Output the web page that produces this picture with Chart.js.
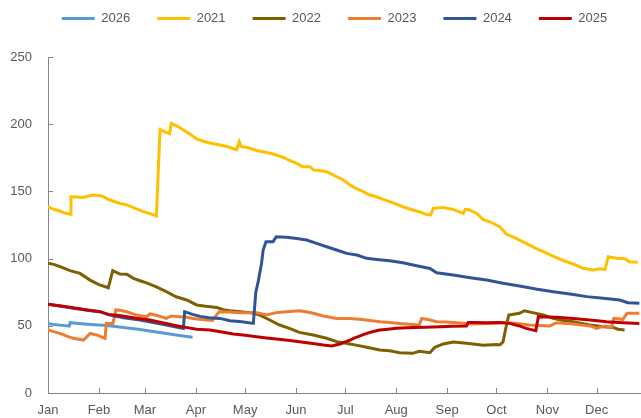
<!DOCTYPE html>
<html>
<head>
<meta charset="utf-8">
<script src="https://cdn.jsdelivr.net/npm/chart.js@4.4.1/dist/chart.umd.min.js"></script>
<style>
html, body { margin: 0; padding: 0; background: #fff; }
#wrap { width: 641px; height: 418px; position: relative; }
</style>
</head>
<body>
<div id="wrap"><canvas id="chart"></canvas></div>
<script>
// x = day of year (0 = 1 Jan)
const monthStarts = [0, 31, 59, 90, 120, 151, 181, 212, 243, 273, 304, 334];
const monthLabels = ['Jan', 'Feb', 'Mar', 'Apr', 'May', 'Jun', 'Jul', 'Aug', 'Sep', 'Oct', 'Nov', 'Dec'];
const yTicks = [0, 50, 100, 150, 200, 250];

const years = ['2026', '2021', '2022', '2023', '2024', '2025'];
const colors = ['#5B9BD5', '#FFC000', '#7F6000', '#ED7D31', '#2F5597', '#C00000'];

// [day, value]
const s2026 = [[0,51.5],[7,50.5],[13,49.8],[13.5,52.3],[24,51.2],[36,50.2],[46,48.8],[56,47.3],[64,45.8],[72,44.2],[80,42.8],[88,41.5]];

const s2021 = [[0,138.5],[4,136.5],[7,135.4],[10,134],[13.4,133],[14,146],[18,145.8],[21.5,145.5],[25,146.8],[27.6,147.3],[32.7,146.6],[37.7,143.6],[43.8,141],[48,140],[52,138],[58,135],[62,133.5],[66,131.7],[68.2,196],[72,194],[74,193],[75,200.6],[78,199],[82,196],[86,193],[90.5,189],[94,187.5],[98.6,186],[106.7,184],[110,183],[114.8,181],[116.4,187],[117.5,183.5],[122,182.5],[127,180.4],[133,178.9],[137,177.8],[143,175.4],[147,173],[151,171],[155,168.4],[159.5,168.4],[161.5,166],[165,165.5],[169.6,164.7],[173.6,162.2],[179.7,158.5],[183.8,155],[187,152.5],[190,151],[196,147.3],[200,146],[204,144],[208,142.4],[212,140.5],[216,138.6],[222,136.2],[226,134.9],[230,133],[233,132.5],[234.5,137.4],[240.6,138],[246.7,136.6],[250,135],[252.8,133.6],[254,136.6],[256,136.6],[261,133.6],[265,129],[269,127.4],[275,123.7],[279,118.3],[285,115],[291,111.3],[297,107.6],[303.5,104],[307,102],[311.6,99.7],[315,98],[319.7,96],[325.8,92.8],[332,91.5],[336,92.5],[339,92],[340,96],[341,101.4],[346,100.2],[350,100],[352,99.4],[354,97.7],[359,97.2]];

const s2022 = [[0,96.5],[4,95.5],[7.3,94],[13.4,91],[19.5,89],[25.6,84],[30.6,80.8],[36.7,78.3],[39.4,91],[43.8,88.5],[47.9,88.3],[52,85.3],[56,83.5],[60,82],[66,79],[72,75.4],[78,71.6],[84.4,69.2],[90.5,65.5],[96,64.5],[102.7,63.7],[106.7,62],[110.8,61.2],[116.9,60.5],[123,59.8],[129,58],[135,54.3],[141,50.6],[147,48.1],[153,45.1],[161.5,43.2],[169.6,40.7],[175.7,38.2],[183.8,36.5],[186,36],[194,34],[202,32],[208,31.5],[214,30],[222,29.5],[226,31],[232.5,30],[235.5,34],[240.6,36.5],[246.7,38],[254.8,37],[265,35.5],[273,36],[275,35.7],[277,38],[279,50],[280.5,58],[287,59.3],[290,61.2],[295,59.8],[301.5,58],[307.5,55.5],[313,54.2],[319.7,53],[325,51.8],[330,50.6],[338,49.3],[344,48.8],[347,47.5],[351,46.9]];

const s2023 = [[0,46.9],[4,45.5],[7.3,44.4],[11,42.5],[15.4,40.7],[21.5,39.4],[23,41],[25.6,44.4],[29.6,43.2],[34.7,40.7],[35.5,51.8],[39.5,51.8],[41.3,61.8],[44,61.5],[47.9,60.5],[54,58],[60,56.8],[62,58.8],[67,57.5],[72,55.5],[75,57.3],[80,56.8],[84.4,56.3],[88,55.5],[92.5,54.8],[96.6,54.3],[100,54],[104.2,60.5],[110,60.2],[117,59.8],[127,59.8],[133,58],[139,59.8],[145,60.5],[153,61.2],[157,60.5],[161.5,59.3],[167.6,57.3],[175.7,55.5],[183.8,55.5],[190,54.8],[196,54],[202,53],[208,52.4],[214,51.8],[220,51.2],[226,50.6],[227.5,55.5],[232,54.5],[236.6,53],[242,52.8],[248.7,52.3],[254,51.8],[259,51.3],[267,51.8],[275,52.3],[281,52.3],[287,51.5],[293,50.6],[299,50.2],[305.5,49.9],[309.6,52.3],[314,51.8],[319.7,51.3],[325,50.5],[330,49.9],[334,48.1],[339,49.9],[343,48.8],[344.5,55.5],[350,54.8],[352.5,59.3],[360,59.3]];

const s2024 = [[0,66],[8,64.5],[15.4,63],[24,61.5],[31.6,60.5],[37.7,58],[46,56],[56,54.3],[64,52.5],[72,50.5],[82.4,48.1],[83.2,60.5],[88,58.5],[92.5,57],[98,56],[104.7,55.5],[110.8,53.8],[118,53],[125,51.8],[126.5,75],[128,83],[130,96.5],[131,106.4],[132.7,112.6],[137,112.6],[139,116.3],[145,115.8],[151.4,115],[157.5,113.8],[163.5,111.3],[169.6,108.8],[175.7,106.4],[181.8,103.9],[188,102.7],[194,100.2],[200,99.4],[208,98.4],[216,96.9],[224.4,94.7],[232.5,92.7],[236.6,89.5],[246.7,87.8],[257,85.8],[267,84.1],[277,81.6],[287,79.6],[297,77.4],[307.5,75.4],[317.7,73.7],[328,71.7],[338,70.5],[348,69.2],[353,67.2],[360,66.7]];

const s2025 = [[0,66],[8,64.8],[15.4,63.5],[24,61.8],[31.6,60.5],[36.7,58.5],[42,57.8],[48,56.8],[55,55.5],[62,54.3],[69,52.5],[76,50.6],[83,49],[90.5,47.4],[98.6,46.9],[105,45.5],[112.8,43.9],[120,43],[127,41.9],[133,41],[139,40.2],[146,39.2],[153,38.2],[160,37],[167.6,35.7],[172.7,35],[177.7,36.5],[183.8,39.4],[186,40.7],[190,42.5],[194,44.4],[198,45.8],[202,46.9],[207,47.5],[212,48.1],[222,48.8],[230,49],[238.6,49.3],[246,49.6],[254.8,49.9],[255.8,52.5],[261,52.4],[267,52.3],[275,52.5],[281,51.8],[287,49.9],[291,48.1],[297,46.4],[298.5,56.8],[304,56.5],[309.6,56.3],[319.7,55.5],[330,54.3],[340,53],[350,52.3],[360,51.8]];

const series = [s2026, s2021, s2022, s2023, s2024, s2025];

const FONT = { family: '"Liberation Sans", Arial, sans-serif', size: 13 };
const TEXT = '#595959';
const AXIS = '#868686';

// short tick marks pointing into the plot
const innerTicks = {
    id: 'innerTicks',
    afterDatasetsDraw(chart) {
        const { ctx, scales: { x, y } } = chart;
        ctx.save();
        ctx.strokeStyle = AXIS;
        ctx.lineWidth = 1;
        ctx.beginPath();
        x.ticks.forEach(t => {
            const px = Math.round(x.getPixelForValue(t.value)) + 0.5;
            ctx.moveTo(px, y.bottom);
            ctx.lineTo(px, y.bottom - 5);
        });
        y.ticks.forEach(t => {
            const py = Math.round(y.getPixelForValue(t.value)) + 0.5;
            ctx.moveTo(x.left, py);
            ctx.lineTo(x.left + 5, py);
        });
        ctx.stroke();
        ctx.restore();
    }
};

// taller legend box, nudged a bit to the right
const legendFit = {
    id: 'legendFit',
    beforeInit(chart) {
        const fit = chart.legend.fit;
        chart.legend.fit = function () {
            fit.call(this);
            this.height = 72;
        };
    },
    afterLayout(chart) {
        chart.legend.left += 14;
        chart.legend.right += 14;
    }
};

new Chart(document.getElementById('chart'), {
    type: 'line',
    data: {
        datasets: series.map((s, i) => ({
            label: years[i],
            data: s.map(p => ({ x: p[0], y: p[1] })),
            borderColor: colors[i],
            backgroundColor: colors[i],
            borderWidth: 3,
            pointRadius: 0,
            tension: 0,
            order: series.length - i
        }))
    },
    options: {
        responsive: true,
        maintainAspectRatio: false,
        animation: false,
        layout: { padding: { top: -15, left: 0, right: 0, bottom: 0 } },
        plugins: {
            tooltip: { enabled: false },
            legend: {
                position: 'top',
                labels: {
                    boxWidth: 33,
                    boxHeight: 3,
                    padding: 27,
                    color: TEXT,
                    font: FONT,
                    generateLabels: chart => chart.data.datasets.map((d, i) => ({
                        text: d.label,
                        fillStyle: d.borderColor,
                        strokeStyle: d.borderColor,
                        lineWidth: 0,
                        fontColor: TEXT,
                        datasetIndex: i
                    }))
                }
            }
        },
        scales: {
            x: {
                type: 'linear',
                min: 0,
                max: 361,
                afterBuildTicks: s => { s.ticks = monthStarts.map(v => ({ value: v })); },
                afterFit: s => { s.height = 25; },
                grid: { display: false, drawTicks: false },
                border: { color: AXIS, width: 1 },
                ticks: {
                    autoSkip: false,
                    maxRotation: 0,
                    padding: 10,
                    color: TEXT,
                    font: FONT,
                    callback: v => monthLabels[monthStarts.indexOf(v)]
                }
            },
            y: {
                min: 0,
                max: 250,
                afterBuildTicks: s => { s.ticks = yTicks.map(v => ({ value: v })); },
                afterFit: s => { s.width = 48; },
                grid: { display: false, drawTicks: false },
                border: { color: AXIS, width: 1 },
                ticks: { padding: 16, color: TEXT, font: FONT }
            }
        }
    },
    plugins: [innerTicks, legendFit]
});
</script>
</body>
</html>
